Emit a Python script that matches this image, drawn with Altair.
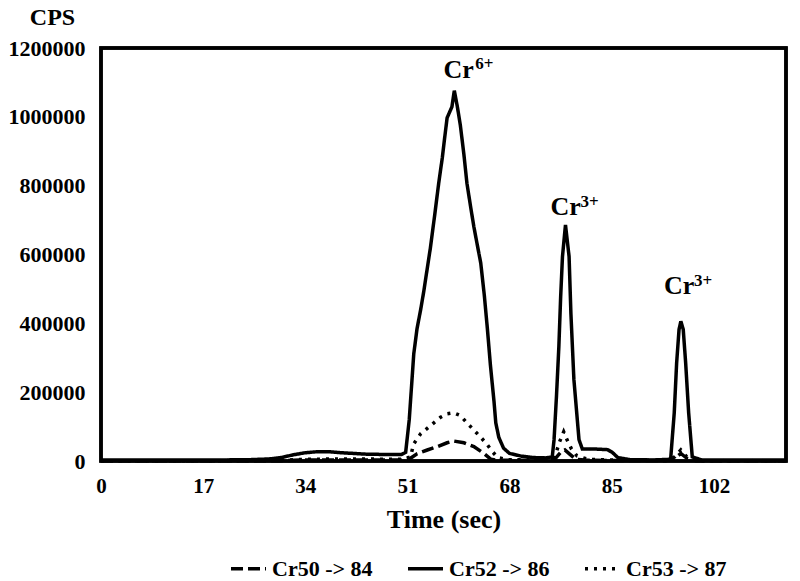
import altair as alt
import pandas as pd

# Cr52 -> 86 (solid)
t52 = [0, 10, 20, 25, 28, 30, 32, 34, 36, 38, 40, 42, 44, 47, 50, 50.7, 51.3, 52.05, 52.6, 53.2,
       53.7, 54.3, 54.8, 55.5, 56.2, 56.8, 57.2, 57.6, 58.4, 58.8, 59.3, 59.8, 60.4, 60.9, 61.5,
       62.05, 62.6, 63.2, 63.8, 64.3, 64.8, 65.4, 65.7, 66.2, 67.0, 68, 70, 72, 74, 75.1,
       75.4, 75.8, 76.2, 76.5, 76.8, 77.3, 77.9, 78.2, 78.7, 79.55, 80.1, 82, 84.3, 85.1, 86.0,
       88, 92, 94.8, 95.4, 95.8, 96.2, 96.5, 96.9, 97.3, 97.8, 98.4, 100, 105, 110, 114]
v52 = [3000, 3000, 3000, 4000, 6000, 10000, 18000, 24000, 27000, 27000, 24000, 22000, 20000, 19000, 19000,
       25000, 120000, 311000, 385000, 440000, 491000, 560000, 617000, 710000, 807000,
       881000, 940000, 997000, 1029000, 1076000, 1030000, 976000, 890000, 807000, 740000,
       681000, 630000, 575000, 480000, 385000, 280000, 174000, 111000, 69000, 37000,
       22000, 14000, 10000, 9000, 12000, 62000, 188000, 333000, 478000, 594000,
       686000, 594000, 430000, 237000, 62000, 35000, 35000, 33000, 25000, 10000,
       4000, 3000, 5000, 140000, 285000, 382000, 406000, 382000, 285000, 140000,
       12000, 3000, 3000, 3000, 3000]

# Cr53 -> 87 (dotted)
t53 = [0, 20, 30, 34, 40, 50, 51.5, 52.05, 53.2, 54.3, 55.4, 56.5, 57.6, 58.7, 59.8, 60.9, 62.05,
       63.2, 64.3, 65.2, 66, 67.5, 74, 75.5, 76.3, 77.0, 77.6, 78.3, 79.2, 81, 85, 94, 95.5, 96.5,
       97.5, 99, 114]
v53 = [1000, 1000, 2000, 5000, 6000, 5000, 12000, 50000, 79000, 95000, 111000, 127000, 137000, 140000,
       132000, 111000, 90000, 69000, 47000, 26000, 10000, 4000, 3000, 10000, 55000, 85000, 60000,
       35000, 15000, 5000, 3000, 2000, 12000, 32000, 12000, 1000, 1000]

# Cr50 -> 84 (dashed)
t50 = [0, 30, 34, 40, 50, 51.5, 52.6, 54.3, 56.0, 57.6, 58.7, 60.4, 62.05, 63.8, 64.9, 66, 74, 75.5,
       76.5, 77.2, 78.0, 79.0, 81, 94, 95.5, 96.5, 97.5, 99, 114]
v50 = [500, 1000, 3000, 3000, 3000, 8000, 21000, 32000, 42000, 53000, 58000, 53000, 42000, 21000, 5000,
       2000, 2000, 5000, 25000, 32000, 20000, 5000, 2000, 1000, 8000, 22000, 8000, 1000, 500]

series_names = ["Cr50 -> 84", "Cr52 -> 86", "Cr53 -> 87"]

x_ticks = [0, 17, 34, 51, 68, 85, 102]
y_ticks = [0, 200000, 400000, 600000, 800000, 1000000, 1200000]

# peak annotations
ann_text = ["Cr", "Cr", "Cr"]
ann_t = [57.0, 74.8, 93.7]
ann_v = [1113000, 715000, 486000]
sup_text = ["6+", "3+", "3+"]
sup_t = [62.3, 79.8, 98.7]
sup_v = [1138000, 738000, 509000]

rows = []
for name, ts, vs in [(series_names[0], t50, v50), (series_names[1], t52, v52), (series_names[2], t53, v53)]:
    for i, (t, v) in enumerate(zip(ts, vs)):
        rows.append({"series": name, "t": t, "v": v, "i": i})
df = pd.DataFrame(rows)

FONT = "Liberation Serif"
W, H = 685, 413

xscale = alt.Scale(domain=[0, 114], nice=False)
yscale = alt.Scale(domain=[0, 1200000], nice=False)

lines = alt.Chart(df).mark_line(color="black", strokeWidth=3.5).encode(
    x=alt.X("t:Q", scale=xscale,
            axis=alt.Axis(values=x_ticks, title="Time (sec)", labelFont=FONT, labelFontSize=21,
                          labelFontWeight="bold", labelColor="black", labelPadding=14,
                          titleFont=FONT, titleFontSize=26, titleFontWeight="bold",
                          titleColor="black", titlePadding=10, grid=False, ticks=False,
                          domain=False, labelFlush=False)),
    y=alt.Y("v:Q", scale=yscale,
            axis=alt.Axis(values=y_ticks, format="d", title="CPS", labelFont=FONT, labelFontSize=22,
                          labelFontWeight="bold", labelColor="black", labelPadding=16,
                          titleFont=FONT, titleFontSize=24, titleFontWeight="bold",
                          titleColor="black", titleAngle=0, titleX=-49, titleY=-31,
                          titleAlign="center", titleBaseline="middle",
                          grid=False, ticks=False, domain=False, labelFlush=False)),
    strokeDash=alt.StrokeDash("series:N",
                              scale=alt.Scale(domain=series_names, range=[[12, 5], [1, 0], [3, 6]]),
                              legend=alt.Legend(title=None, orient="none", legendX=128, legendY=501,
                                                direction="horizontal", symbolType="stroke",
                                                symbolStrokeColor="black", symbolStrokeWidth=3.5,
                                                symbolSize=1225, labelFont=FONT, labelFontSize=22,
                                                labelFontWeight="bold", labelColor="black",
                                                labelOffset=4, columnPadding=28)),
    detail="series:N",
    order="i:Q",
)

ann_df = pd.DataFrame({"t": ann_t, "v": ann_v, "txt": ann_text})
sup_df = pd.DataFrame({"t": sup_t, "v": sup_v, "txt": sup_text})

ann = alt.Chart(ann_df).mark_text(font=FONT, fontSize=26, fontWeight="bold", color="black",
                                  align="left", baseline="alphabetic").encode(
    x=alt.X("t:Q", scale=xscale), y=alt.Y("v:Q", scale=yscale), text="txt:N")
sup = alt.Chart(sup_df).mark_text(font=FONT, fontSize=17, fontWeight="bold", color="black",
                                  align="left", baseline="alphabetic").encode(
    x=alt.X("t:Q", scale=xscale), y=alt.Y("v:Q", scale=yscale), text="txt:N")

frame = alt.Chart(pd.DataFrame({"k": [0]})).mark_rect(
    filled=False, stroke="black", strokeWidth=3.5, fill=None
).encode(x=alt.value(0), x2=alt.value(W), y=alt.value(0), y2=alt.value(H))

chart = alt.layer(lines, ann, sup, frame).properties(
    width=W, height=H,
    background="white",
    autosize=alt.AutoSizeParams(type="none"),
    padding={"left": 93, "top": 40, "right": 6, "bottom": 120},
).configure_view(stroke="black", strokeWidth=3.5)

chart.save("out.html", embed_options={"renderer": "svg", "actions": False})
